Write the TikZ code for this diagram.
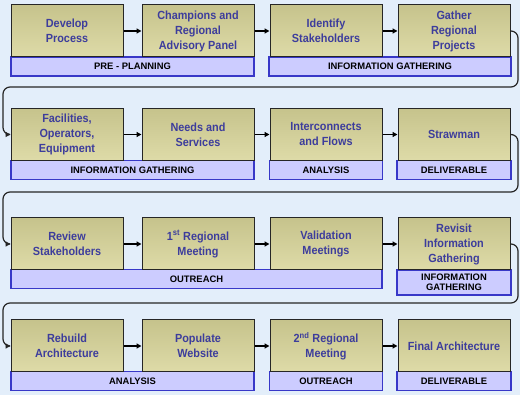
\documentclass[tikz,border=0pt]{standalone}
\usepackage{fontspec}
\setmainfont{Liberation Sans}
\newfontfamily\boxfont{Liberation Sans}[FakeStretch=0.92]
\usetikzlibrary{positioning, arrows.meta}
\definecolor{pBg}{HTML}{E3EEFA}
\definecolor{pText}{HTML}{3D3D9C}
\definecolor{pBarFill}{HTML}{CCCCFF}
\definecolor{pBarLine}{HTML}{3838C8}
\definecolor{pBoxTop}{HTML}{C6C38C}
\definecolor{pBoxMid}{HTML}{F5F3CF}
\definecolor{pBoxBot}{HTML}{DEDBA8}

\begin{document}
\begin{tikzpicture}[
  x=1pt, y=-1pt,
  every node/.style={font=\bfseries},
  stepbox/.style={draw=black!85, line width=1pt, top color=pBoxTop, middle color=pBoxMid,
                  bottom color=pBoxBot, minimum width=112pt, minimum height=52pt,
                  inner sep=2pt, align=center, text=pText,
                  font=\boxfont\bfseries\fontsize{11.8}{15}\selectfont},
  phase/.style={draw=pBarLine, line width=1.2pt, fill=pBarFill, minimum height=19pt,
                inner sep=0pt, align=center, text=black,
                font=\bfseries\fontsize{9.4}{9.6}\selectfont},
  flow/.style={-{Triangle[length=5pt, width=5pt]}, line width=1.6pt, black},
  link/.style={-{Triangle[length=5pt, width=5pt]}, line width=1.2pt, black!85, rounded corners=7pt},
]
  \fill[pBg] (0,0) rectangle (520,395);

  % Phase bars
  \node[phase, minimum width=243pt] (preplan) at (132.5,66.5) {PRE - PLANNING};
  \node[phase, minimum width=242pt] (info1) at (390,66.5) {INFORMATION GATHERING};
  \node[phase, minimum width=243pt] (info2) at (132.5,170) {INFORMATION GATHERING};
  \node[phase, minimum width=113pt] (anal1) at (326,170) {ANALYSIS};
  \node[phase, minimum width=114pt] (deliv1) at (454,170) {DELIVERABLE};
  \node[phase, minimum width=371pt] (outr1) at (196.5,279) {OUTREACH};
  \node[phase, minimum width=114pt, minimum height=25pt] (info3) at (454,282.5) {INFORMATION\\GATHERING};
  \node[phase, minimum width=243pt] (anal2) at (132.5,381) {ANALYSIS};
  \node[phase, minimum width=113pt] (outr2) at (326,381) {OUTREACH};
  \node[phase, minimum width=114pt] (deliv2) at (454,381) {DELIVERABLE};

  % Row 1
  \node[stepbox] (dev) at (67,31) {Develop\\Process};
  \node[stepbox] (champ) at (198,31) {Champions and\\Regional\\Advisory Panel};
  \node[stepbox] (ident) at (326,31) {Identify\\Stakeholders};
  \node[stepbox] (gather) at (454,31) {Gather\\Regional\\Projects};

  % Row 2
  \node[stepbox] (facil) at (67,134.5) {Facilities,\\Operators,\\Equipment};
  \node[stepbox] (needs) at (198,134.5) {Needs and\\Services};
  \node[stepbox] (inter) at (326,134.5) {Interconnects\\and Flows};
  \node[stepbox] (straw) at (454,134.5) {Strawman};

  % Row 3
  \node[stepbox] (review) at (67,244) {Review\\Stakeholders};
  \node[stepbox] (meet1) at (198,244) {1\textsuperscript{st} Regional\\Meeting};
  \node[stepbox] (valid) at (326,244) {Validation\\Meetings};
  \node[stepbox] (revisit) at (454,244) {Revisit\\Information\\Gathering};

  % Row 4
  \node[stepbox] (rebuild) at (67,346) {Rebuild\\Architecture};
  \node[stepbox] (populate) at (198,346) {Populate\\Website};
  \node[stepbox] (meet2) at (326,346) {2\textsuperscript{nd} Regional\\Meeting};
  \node[stepbox] (final) at (454,346) {Final Architecture};

  % Arrows within rows
  \draw[flow] (dev) -- (champ);
  \draw[flow] (champ) -- (ident);
  \draw[flow] (ident) -- (gather);
  \draw[flow] (facil) -- (needs);
  \draw[flow] (needs) -- (inter);
  \draw[flow] (inter) -- (straw);
  \draw[flow] (review) -- (meet1);
  \draw[flow] (meet1) -- (valid);
  \draw[flow] (valid) -- (revisit);
  \draw[flow] (rebuild) -- (populate);
  \draw[flow] (populate) -- (meet2);
  \draw[flow] (meet2) -- (final);

  % Row to row
  \draw[link] (gather.east) -| (518,87) -| (3,134.5) -- (facil.west);
  \draw[link] (straw.east) -| (518,192) -| (3,244) -- (review.west);
  \draw[link] (revisit.east) -| (518,303) -| (3,346) -- (rebuild.west);
\end{tikzpicture}
\end{document}
